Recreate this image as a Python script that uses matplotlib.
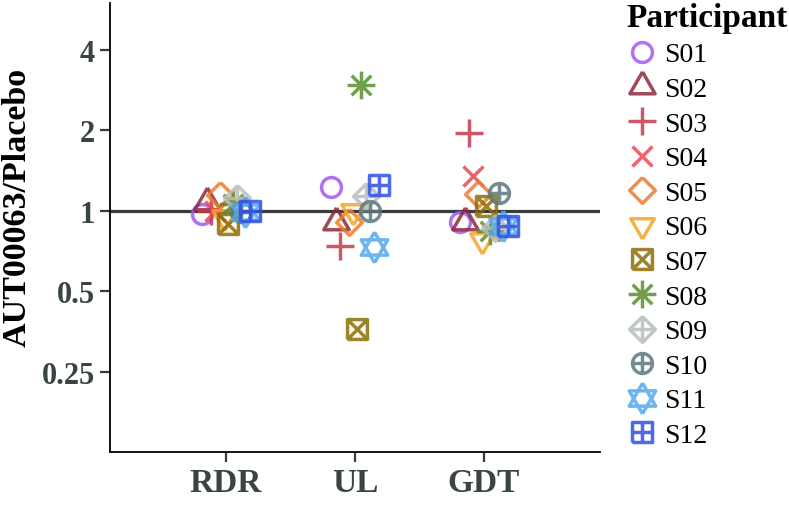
import numpy as np
import matplotlib.pyplot as plt
from matplotlib.path import Path
from matplotlib.lines import Line2D

plt.rcParams['font.family'] = ['Liberation Serif', 'DejaVu Serif']

conditions = ["RDR", "UL", "GDT"]
participants = ["S01", "S02", "S03", "S04", "S05", "S06",
                "S07", "S08", "S09", "S10", "S11", "S12"]

# AUT00063 / placebo ratio per participant (NaN = not measured)
ratio_rdr = [0.97, 1.08, 1.00, 1.00, 1.15, 0.95, 0.89, 1.06, 1.12, 0.99, 0.99, 1.00]
ratio_ul = [1.23, 0.91, 0.74, np.nan, 0.905, 1.00, 0.36, 2.97, 1.14, 1.00, 0.73, 1.25]
ratio_gdt = [0.905, 0.91, 1.96, 1.35, 1.16, 0.78, 1.04, 0.84, 0.86, 1.17, 0.88, 0.88]

yticks = [0.25, 0.5, 1, 2, 4]
ytick_labels = ["0.25", "0.5", "1", "2", "4"]

colors = ["#A259F0", "#8E2A3C", "#C23B4B", "#E84A50", "#F07A2B", "#F5A52A",
          "#8C6D05", "#5A8F2C", "#B7BDBD", "#5B7780", "#54A8EC", "#2F4FE6"]

M, L = Path.MOVETO, Path.LINETO


def seg(points):
    return Path(points, [M] + [L] * (len(points) - 1))


tri_up = seg([(0, 1), (-0.866, -0.5), (0.866, -0.5), (0, 1)])
tri_dn = seg([(0, -1), (-0.866, 0.5), (0.866, 0.5), (0, -1)])
diamond = seg([(0, 1), (1, 0), (0, -1), (-1, 0), (0, 1)])
square = seg([(-1, -1), (1, -1), (1, 1), (-1, 1), (-1, -1)])
hline = seg([(-1, 0), (1, 0)])
vline = seg([(0, -1), (0, 1)])
d1 = seg([(-1, -1), (1, 1)])
d2 = seg([(-1, 1), (1, -1)])
a1 = seg([(-0.707, -0.707), (0.707, 0.707)])
a2 = seg([(-0.707, 0.707), (0.707, -0.707)])

markers = [
    "o",
    tri_up,
    "+",
    "x",
    diamond,
    tri_dn,
    Path.make_compound_path(square, d1, d2),
    Path.make_compound_path(hline, vline, a1, a2),
    Path.make_compound_path(diamond, hline, vline),
    Path.make_compound_path(Path.unit_circle(), hline, vline),
    Path.make_compound_path(tri_up, tri_dn),
    Path.make_compound_path(square, hline, vline),
]
msizes = [14.3, 21, 19.5, 15, 18.5, 19.5, 14.3, 20, 18.5, 14.3, 22, 14.3]

fig = plt.figure(figsize=(7.89, 5.06), dpi=100)
ax = fig.add_axes([110 / 789, 1 - 453 / 506, 490 / 789, 449 / 506])

ax.axhline(1, color="#343c3c", lw=2.3, zorder=1)

dodge = 0.4
offsets = (np.arange(len(participants)) - 5.5) * dodge / len(participants)
base = np.arange(1, len(conditions) + 1)
data = np.array([ratio_rdr, ratio_ul, ratio_gdt])

handles = []
for i, name in enumerate(participants):
    kw = dict(marker=markers[i], ms=msizes[i], mew=2.5, mfc="none",
              mec=colors[i], color=colors[i], linestyle="none", alpha=0.85)
    ax.plot(base + offsets[i], data[:, i], zorder=3, **kw)
    handles.append(Line2D([], [], **kw))

ax.set_yscale("log")
ax.set_ylim(0.125, 6)
ax.set_xlim(0.1, 3.9)
ax.set_yticks(yticks)
ax.set_yticklabels(ytick_labels)
ax.minorticks_off()
ax.set_xticks(base)
ax.set_xticklabels(conditions)

for s in ["top", "right"]:
    ax.spines[s].set_visible(False)
for s in ["left", "bottom"]:
    ax.spines[s].set_linewidth(1.3)
    ax.spines[s].set_color("black")

ax.tick_params(axis="both", length=7.5, width=1.6, color="#343c3c",
               labelcolor="#3B4444")
ax.tick_params(axis="y", labelsize=22, pad=3.5)
ax.tick_params(axis="x", labelsize=24, pad=3)
for lab in ax.get_xticklabels() + ax.get_yticklabels():
    lab.set_fontweight("bold")

ax.set_ylabel("AUT00063/Placebo", fontsize=24.5, fontweight="bold")
ax.yaxis.set_label_coords(-0.157, 0.546)

fig.legend(handles, participants, title="Participant", loc="upper left",
           bbox_to_anchor=(624 / 789, 1.0), frameon=False,
           prop={"family": "Liberation Serif", "size": 20},
           title_fontproperties={"family": "Liberation Serif", "size": 24,
                                 "weight": "bold"},
           alignment="left", handlelength=1.1, handletextpad=0.25,
           labelspacing=0.33, borderaxespad=0, borderpad=0.1)

fig.savefig("out.png", dpi=100)
